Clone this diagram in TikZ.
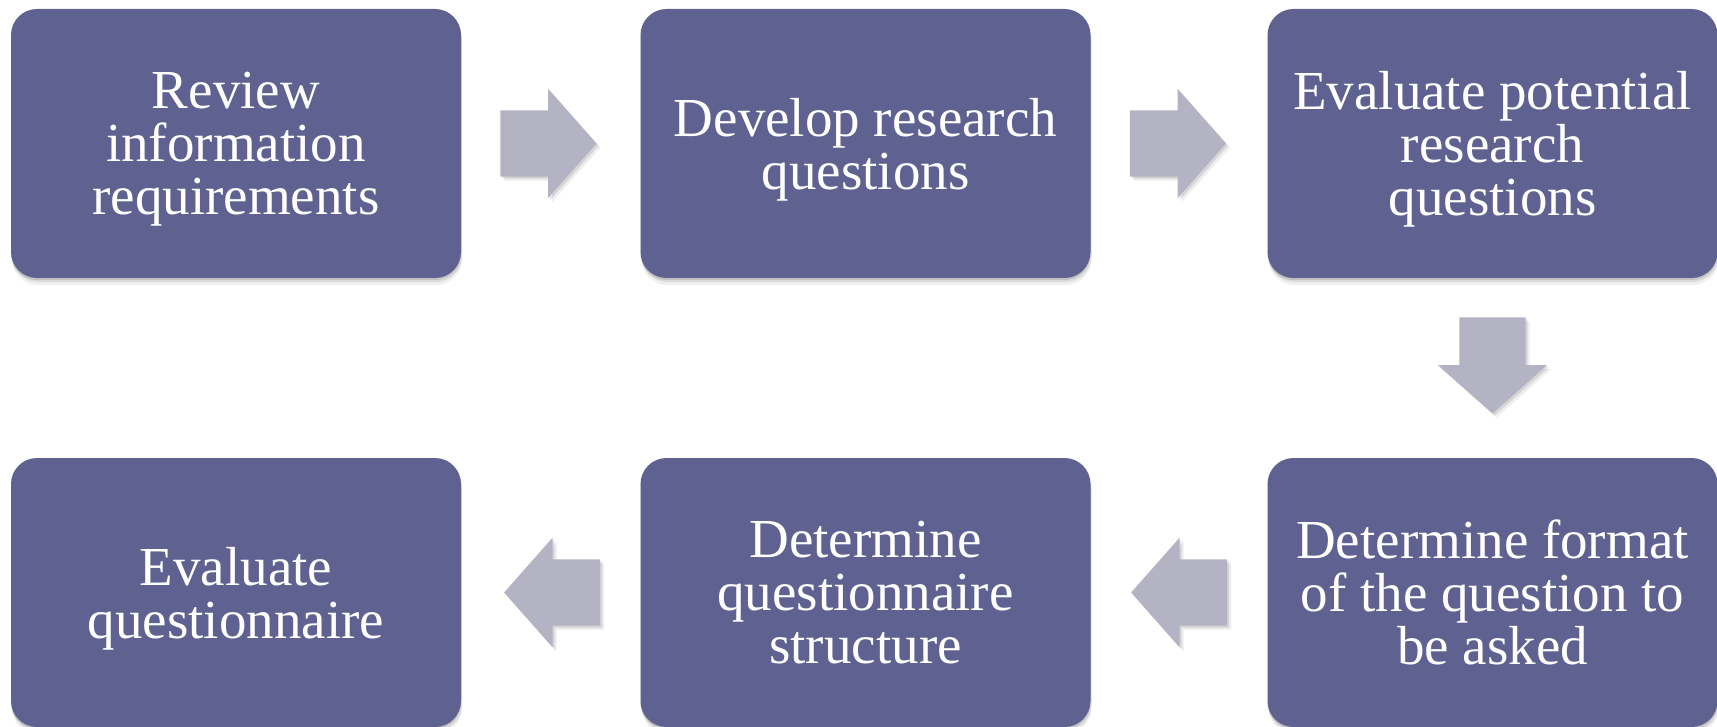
\documentclass[tikz,border=0pt]{standalone}
\usepackage{fontspec}
\setmainfont{Liberation Serif}
\usetikzlibrary{shapes.arrows, shadows, positioning}

\definecolor{stagefill}{HTML}{5F6290}
\definecolor{flowfill}{HTML}{B3B3C4}

\begin{document}
\begin{tikzpicture}[
        x=1pt, y=-1pt,
        stage/.style={rectangle, rounded corners=26pt, fill=stagefill,
            minimum width=450pt, minimum height=269pt, inner sep=0pt,
            text=white, align=center, font=\fontsize{55}{53}\selectfont,
            text depth=0pt,
            drop shadow={shadow xshift=0pt, shadow yshift=-2pt, opacity=0.12, fill=black},
            drop shadow={shadow xshift=1pt, shadow yshift=-4pt, opacity=0.09, fill=black},
            drop shadow={shadow xshift=1pt, shadow yshift=-7pt, opacity=0.06, fill=black}},
        flow/.style={single arrow, fill=flowfill, inner sep=0pt,
            text height=66pt, text depth=0pt, minimum height=96pt,
            single arrow head extend=21.5pt, single arrow tip angle=97,
            anchor=tail,
            drop shadow={shadow xshift=2pt, shadow yshift=-2pt, opacity=0.1, fill=black},
            drop shadow={shadow xshift=4pt, shadow yshift=-4pt, opacity=0.07, fill=black}}
    ]
        \useasboundingbox (0,0) rectangle (1717,727);

        \node[stage] (b1) at (236,143.5)    {Review\\information\\requirements};
        \node[stage] (b2) at (865.5,143.5)  {Develop research\\questions};
        \node[stage] (b3) at (1492.5,143.5) {Evaluate potential\\research\\questions};
        \node[stage] (b6) at (1492.5,592.5) {Determine format\\of the question to\\be asked};
        \node[stage] (b5) at (865.5,592.5)  {Determine\\questionnaire\\structure};
        \node[stage] (b4) at (236,592.5)    {Evaluate\\questionnaire};

        \node[flow] (a1) at ([xshift=39pt]b1.east) {};
        \node[flow] (a2) at ([xshift=39pt]b2.east) {};
        \node[flow, rotate=-90] (a3) at ([yshift=-39pt]b3.south) {};
        \node[flow, rotate=180] (a4) at ([xshift=-40pt]b6.west) {};
        \node[flow, rotate=180] (a5) at ([xshift=-40pt]b5.west) {};
    \end{tikzpicture}
\end{document}
